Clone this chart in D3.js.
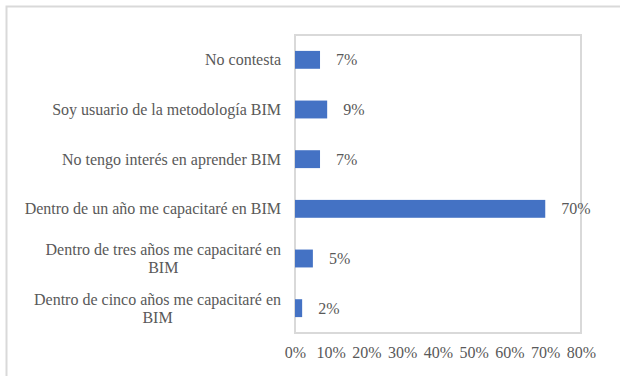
<!DOCTYPE html>
<html>
<head>
<meta charset="utf-8">
<script src="https://cdn.jsdelivr.net/npm/d3@7"></script>
<style>
  html, body { margin: 0; padding: 0; background: #fff; }
  svg { display: block; }
</style>
</head>
<body>
<svg id="chart" width="620" height="376" font-family="Liberation Serif"></svg>
<script>
// Survey answers, top to bottom; "\n" marks a line break in the label
const categories = [
  "No contesta",
  "Soy usuario de la metodología BIM",
  "No tengo interés en aprender BIM",
  "Dentro de un año me capacitaré en BIM",
  "Dentro de tres años me capacitaré en\nBIM",
  "Dentro de cinco años me capacitaré en\nBIM"
];
const values = [7, 9, 7, 70, 5, 2];
const tickValues = [0, 10, 20, 30, 40, 50, 60, 70, 80];

const FONT = "Liberation Serif";
const TEXT = "#595959";
const FS = 16;

const svg = d3.select("#chart");
const W = 620, H = 376;
const plot = { left: 295, right: 581, top: 35, bottom: 333 };

// outer chart border (runs off the right and bottom edges)
svg.append("rect")
  .attr("x", 6.5).attr("y", 6.5)
  .attr("width", W + 10).attr("height", H + 10)
  .attr("fill", "none").attr("stroke", "#d9d9d9").attr("stroke-width", 2);

const x = d3.scaleLinear().domain([0, 80]).range([plot.left, plot.right]);
const y = d3.scaleBand().domain(categories).range([plot.top, plot.bottom]).paddingInner(0.64).paddingOuter(0.32);

// plot area frame
svg.append("rect")
  .attr("x", plot.left).attr("y", plot.top)
  .attr("width", plot.right - plot.left).attr("height", plot.bottom - plot.top)
  .attr("fill", "none").attr("stroke", "#d9d9d9").attr("stroke-width", 2);

// bars
svg.append("g").selectAll("rect")
  .data(categories)
  .join("rect")
  .attr("x", x(0))
  .attr("y", d => y(d))
  .attr("width", (d, i) => x(values[i]) - x(0))
  .attr("height", y.bandwidth())
  .attr("fill", "#4472c4");

// value labels
svg.append("g").selectAll("text")
  .data(categories)
  .join("text")
  .attr("x", (d, i) => x(values[i]) + 16)
  .attr("y", d => y(d) + y.bandwidth() / 2)
  .attr("dy", "0.35em")
  .attr("font-family", FONT)
  .attr("font-size", FS)
  .attr("fill", TEXT)
  .text((d, i) => values[i] + "%");

// x axis tick labels
const xAxis = d3.axisBottom(x)
  .tickValues(tickValues)
  .tickSize(0)
  .tickPadding(0)
  .tickFormat(d => d + "%");
const gx = svg.append("g").attr("transform", `translate(0,${plot.bottom + 14})`).call(xAxis)
  .attr("font-family", FONT).attr("font-size", FS);
gx.select(".domain").remove();
gx.selectAll("text").attr("fill", TEXT);

// category labels: block right-aligned to the axis, lines centred within the block
const labelRight = 281;
const lineH = 18;
const gy = svg.append("g");
categories.forEach(cat => {
  const lines = cat.split("\n");
  const g = gy.append("g");
  const cy = y(cat) + y.bandwidth() / 2;
  const texts = lines.map((ln, k) => g.append("text")
    .attr("font-family", FONT)
    .attr("font-size", FS)
    .attr("fill", TEXT)
    .attr("text-anchor", "middle")
    .attr("y", cy + (k - (lines.length - 1) / 2) * lineH)
    .attr("dy", "0.35em")
    .text(ln));
  const maxW = d3.max(texts, t => t.node().getComputedTextLength());
  texts.forEach(t => t.attr("x", labelRight - maxW / 2));
});
</script>
</body>
</html>
